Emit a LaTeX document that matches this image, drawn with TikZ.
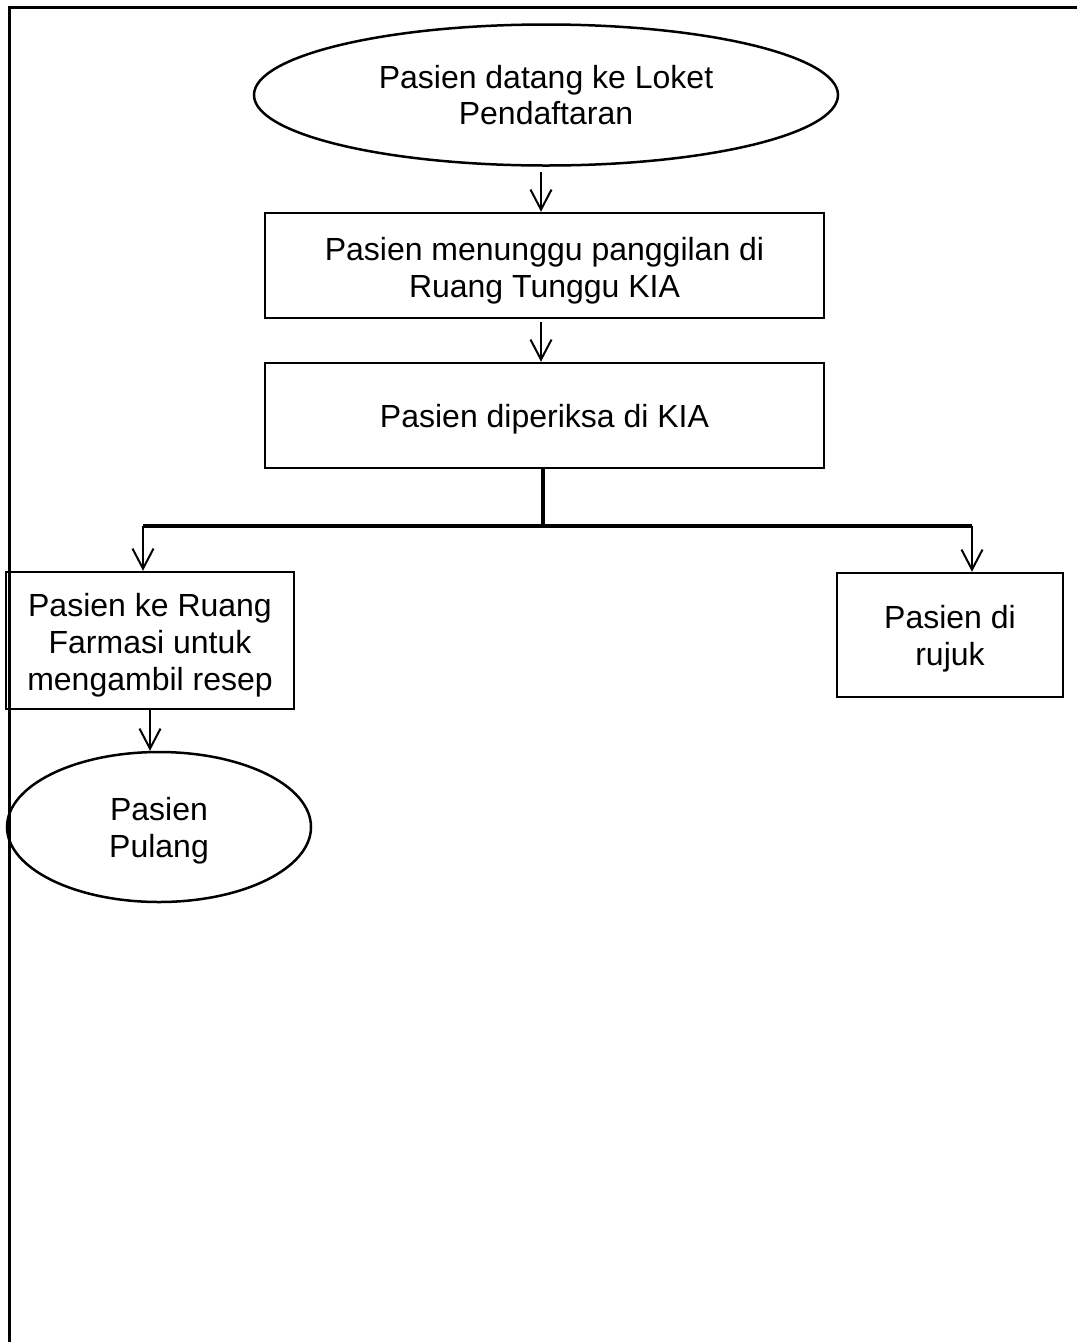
\documentclass[tikz,border=0pt]{standalone}
\usepackage{fontspec}
\setmainfont{Liberation Sans}
\usetikzlibrary{shapes.geometric,arrows.meta}
\begin{document}
\begin{tikzpicture}[x=1pt,y=-1pt,
  every node/.style={font=\fontsize{32}{36.8}\selectfont, align=center, inner sep=0pt},
  procbox/.style={draw, line width=2.5pt, rectangle},
  termbox/.style={draw, line width=2.5pt, ellipse},
  flow/.style={line width=2pt, -{Straight Barb[length=20pt,width=21pt,line width=2pt]}},
  branch/.style={line width=3.5pt}]
  \useasboundingbox (0,0) rectangle (1077,1342);
  % frame lines of the page cell
  \draw[line width=3pt] (9,1342) -- (9,7) -- (1077,7);

  % shapes
  \node[termbox, minimum width=584pt, minimum height=141pt] (start) at (546,95) {};
  \node[procbox, minimum width=559pt, minimum height=105pt] (wait) at (544.5,265.5) {};
  \node[procbox, minimum width=559pt, minimum height=105pt] (exam) at (544.5,415.5) {};
  \node[procbox, minimum width=288pt, minimum height=137pt] (farm) at (150,640.5) {};
  \node[procbox, minimum width=226pt, minimum height=124pt] (rujuk) at (950,635) {};
  \node[termbox, minimum width=304pt, minimum height=150pt] (home) at (159,827) {};

  % texts
  \node (starttext) at (start.center) {Pasien datang ke Loket\\Pendaftaran};
  \node[yshift=-5pt] (waittext) at (wait.center) {Pasien menunggu panggilan di\\Ruang Tunggu KIA};
  \node[yshift=-4pt] (examtext) at (exam.center) {Pasien diperiksa di KIA};
  \node[yshift=-5pt] (farmtext) at (farm.center) {Pasien ke Ruang\\Farmasi untuk\\mengambil resep};
  \node[yshift=-4pt] (rujuktext) at (rujuk.center) {Pasien di\\rujuk};
  \node[yshift=-4pt] (hometext) at (home.center) {Pasien\\Pulang};

  % branch points
  \coordinate (split) at (543,526);
  \coordinate (lft) at (143,526);
  \coordinate (rgt) at (972,526);
  \coordinate (s1) at (541,172);
  \coordinate (s2) at (541,322);

  % connectors
  \draw[flow] (s1) -- (s1 |- wait.north);
  \draw[flow] (s2) -- (s2 |- exam.north);
  \draw[branch] (split |- exam.south) -- (split);
  \draw[branch] (lft) -- (rgt);
  \draw[flow] (lft) -- (lft |- farm.north);
  \draw[flow] (rgt) -- (rgt |- rujuk.north);
  \draw[flow] (farm.south) -- (farm.south |- home.north);
\end{tikzpicture}
\end{document}
